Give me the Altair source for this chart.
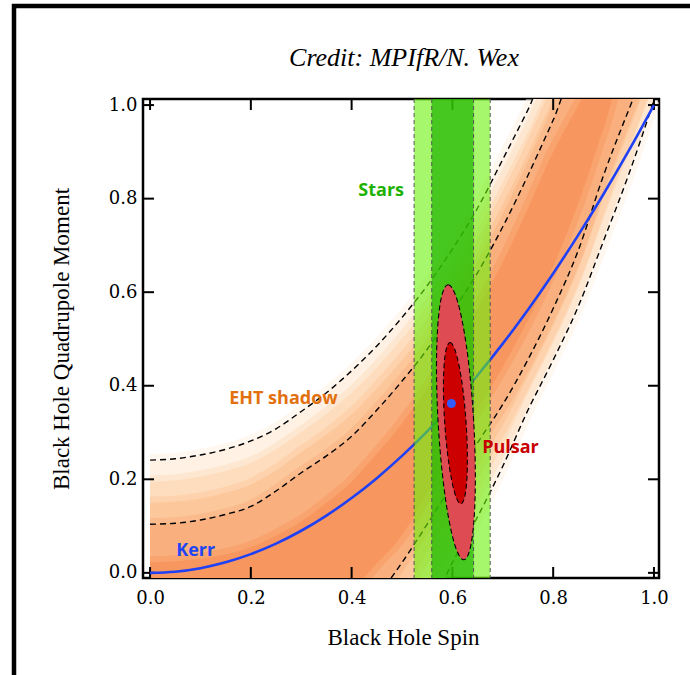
import altair as alt
import pandas as pd

# ---------------- data ----------------
spin_grid = [0.00, 0.05, 0.10, 0.15, 0.20, 0.25, 0.30, 0.35, 0.40, 0.45, 0.50,
             0.55, 0.60, 0.65, 0.70, 0.75, 0.80, 0.85, 0.90, 0.95, 1.00]

# Kerr relation (quadrupole vs spin)
kerr_q = [0.0, 0.0025, 0.01, 0.0225, 0.04, 0.0625, 0.09, 0.1225, 0.16, 0.2025, 0.25,
          0.3025, 0.36, 0.4225, 0.49, 0.5625, 0.64, 0.7225, 0.81, 0.9025, 1.0]

# EHT shadow contours (dashed); values outside [0,1] lie beyond the frame
eht_upper_outer = [0.241, 0.244, 0.252, 0.264, 0.282, 0.308, 0.345, 0.385, 0.432, 0.485, 0.546,
                   0.614, 0.692, 0.780, 0.884, 0.990, 1.100, 1.10, 1.10, 1.10, 1.10]
eht_upper_inner = [0.104, 0.106, 0.113, 0.125, 0.142, 0.175, 0.214, 0.250, 0.292, 0.348, 0.410,
                   0.478, 0.558, 0.642, 0.740, 0.850, 0.968, 1.090, 1.10, 1.10, 1.10]
eht_lower_inner = [-0.1, -0.1, -0.1, -0.1, -0.1, -0.1, -0.1, -0.1, -0.1, -0.05, 0.022,
                   0.104, 0.190, 0.278, 0.360, 0.456, 0.565, 0.690, 0.850, 0.990, 1.120]
eht_lower_outer = [-0.1, -0.1, -0.1, -0.1, -0.1, -0.1, -0.1, -0.1, -0.1, -0.1, -0.1,
                   -0.08, 0.022, 0.120, 0.228, 0.348, 0.455, 0.570, 0.710, 0.852, 1.010]

# estimated iso-shade boundaries of the EHT probability band
shade_upper_a = [0.195, 0.198, 0.206, 0.218, 0.235, 0.264, 0.301, 0.340, 0.385, 0.439, 0.501,
                 0.569, 0.647, 0.734, 0.836, 0.943, 1.056, 1.10, 1.10, 1.10, 1.10]
shade_upper_b = [0.150, 0.152, 0.159, 0.171, 0.189, 0.219, 0.258, 0.295, 0.339, 0.394, 0.455,
                 0.523, 0.603, 0.688, 0.788, 0.897, 1.012, 1.10, 1.10, 1.10, 1.10]
shade_upper_c = [0.022, 0.025, 0.030, 0.040, 0.055, 0.080, 0.110, 0.150, 0.195, 0.255, 0.320,
                 0.395, 0.480, 0.565, 0.665, 0.780, 0.900, 1.000, 1.10, 1.10, 1.10]
shade_lower_a = [-0.1, -0.1, -0.1, -0.1, -0.1, -0.1, -0.1, -0.1, -0.1, -0.1, -0.1,
                 -0.019, 0.078, 0.173, 0.272, 0.384, 0.492, 0.610, 0.757, 0.898, 1.047]
shade_lower_b = [-0.1, -0.1, -0.1, -0.1, -0.1, -0.1, -0.1, -0.1, -0.1, -0.1, -0.045,
                 0.043, 0.134, 0.225, 0.316, 0.420, 0.528, 0.650, 0.803, 0.944, 1.083]
shade_lower_c = [-0.1, -0.1, -0.1, -0.1, -0.1, -0.1, -0.1, -0.1, -0.04, 0.02, 0.08,
                 0.17, 0.26, 0.35, 0.44, 0.54, 0.655, 0.79, 0.95, 1.10, 1.10]

# stellar orbits constraint (spin bands)
stars_outer = [0.524, 0.675]
stars_inner = [0.559, 0.642]

# pulsar timing ellipses (centre spin, centre quadrupole)
pulsar_outer_center = [0.607, 0.322]
pulsar_inner_center = [0.606, 0.320]
best_fit = [0.598, 0.362]

# labels
label_text = ["Stars", "EHT shadow", "Kerr", "Pulsar"]
label_spin = [0.504, 0.157, 0.052, 0.659]
label_q = [0.806, 0.361, 0.036, 0.256]

title_text = "Credit: MPIfR/N. Wex"
tick_values = [0.0, 0.2, 0.4, 0.6, 0.8, 1.0]

# ---------------- chart ----------------
W, H = 516, 479
xs = alt.Scale(domain=[-0.014, 1.01], nice=False, zero=False)
ys = alt.Scale(domain=[-0.011, 1.013], nice=False, zero=False)

x_axis = alt.Axis(values=tick_values, format=".1f", ticks=False, tickSize=0, domain=False, grid=False,
                  labelFont="DejaVu Serif", labelFontSize=18, labelColor="black", labelPadding=11,
                  title="Black Hole Spin", titleFont="Liberation Serif", titleFontSize=23,
                  titleFontWeight="normal", titleColor="black", titleX=W / 2 + 2, titleY=66,
                  titleBaseline="alphabetic", titleAlign="center", zindex=1)
y_axis = alt.Axis(values=tick_values, format=".1f", ticks=False, tickSize=0, domain=False, grid=False,
                  labelFont="DejaVu Serif", labelFontSize=18, labelColor="black", labelPadding=6,
                  title="Black Hole Quadrupole Moment", titleFont="Liberation Serif", titleFontSize=23,
                  titleFontWeight="normal", titleColor="black", titleX=-75, titleY=H / 2,
                  titleAngle=270, titleBaseline="alphabetic", titleAlign="center", zindex=1)


def X(field):
    return alt.X(field, type="quantitative", scale=xs, axis=x_axis)


def Y(field):
    return alt.Y(field, type="quantitative", scale=ys, axis=y_axis)


layers = []

# orange EHT band (nested shades, outer to inner, with softened edges)
shades = [
    (eht_lower_outer, eht_upper_outer, "#FFF1E3"),
    (shade_lower_a, shade_upper_a, "#FEDDBE"),
    (shade_lower_b, shade_upper_b, "#FCC79B"),
    (eht_lower_inner, eht_upper_inner, "#FAB07E"),
    (shade_lower_c, shade_upper_c, "#F7975F"),
]
for lo, hi, col in shades:
    df = pd.DataFrame({"spin": spin_grid, "lo": lo, "hi": hi})
    layers.append(
        alt.Chart(df).mark_area(color=col, interpolate="monotone", clip=True)
        .encode(x=X("spin"), y=Y("lo"), y2=alt.Y2("hi"))
    )
    for fld in ["lo", "hi"]:
        layers.append(
            alt.Chart(df).mark_line(color=col, strokeWidth=12, opacity=0.5,
                                    interpolate="monotone", clip=True)
            .encode(x=X("spin"), y=Y(fld))
        )

# inward ticks on all four sides
tick_df = pd.DataFrame({"t": tick_values})
layers += [
    alt.Chart(tick_df).mark_rule(color="black", strokeWidth=2)
    .encode(x=X("t"), y=alt.value(H), y2=alt.value(H - 11)),
    alt.Chart(tick_df).mark_rule(color="black", strokeWidth=2)
    .encode(x=X("t"), y=alt.value(0), y2=alt.value(11)),
    alt.Chart(tick_df).mark_rule(color="black", strokeWidth=2)
    .encode(y=Y("t"), x=alt.value(0), x2=alt.value(11)),
    alt.Chart(tick_df).mark_rule(color="black", strokeWidth=2)
    .encode(y=Y("t"), x=alt.value(W), x2=alt.value(W - 11)),
]

# EHT dashed contours
rows = []
for name, arr in [("uo", eht_upper_outer), ("ui", eht_upper_inner),
                  ("li", eht_lower_inner), ("lo", eht_lower_outer)]:
    for s, q in zip(spin_grid, arr):
        rows.append({"spin": s, "q": q, "line": name})
eht_df = pd.DataFrame(rows)
layers.append(
    alt.Chart(eht_df).mark_line(color="black", strokeWidth=1.4, strokeDash=[6, 4],
                                interpolate="monotone", clip=True)
    .encode(x=X("spin"), y=Y("q"), detail="line:N")
)

# Kerr curve
kerr_df = pd.DataFrame({"spin": spin_grid, "q": kerr_q})
layers.append(
    alt.Chart(kerr_df).mark_line(color="#1F40F5", strokeWidth=2.6, interpolate="monotone", clip=True)
    .encode(x=X("spin"), y=Y("q"))
)

# stars bands
outer_df = pd.DataFrame({"lo": [stars_outer[0]], "hi": [stars_outer[1]]})
inner_df = pd.DataFrame({"lo": [stars_inner[0]], "hi": [stars_inner[1]]})
layers.append(alt.Chart(outer_df).mark_rect(color="#6BF20A", opacity=0.6)
              .encode(x=X("lo"), x2=alt.X2("hi")))
layers.append(alt.Chart(inner_df).mark_rect(color="#20B400", opacity=0.7)
              .encode(x=X("lo"), x2=alt.X2("hi")))
edge_df = pd.DataFrame({"e": stars_outer + stars_inner})
layers.append(alt.Chart(edge_df).mark_rule(color="#555555", strokeWidth=1, strokeDash=[4, 3])
              .encode(x=X("e")))

# pulsar ellipses
ell_outer = "M 0 -1 A 0.129 1 0 1 1 0 1 A 0.129 1 0 1 1 0 -1 Z"
ell_inner = "M 0 -1 A 0.132 1 0 1 1 0 1 A 0.132 1 0 1 1 0 -1 Z"
po_df = pd.DataFrame({"spin": [pulsar_outer_center[0]], "q": [pulsar_outer_center[1]]})
pi_df = pd.DataFrame({"spin": [pulsar_inner_center[0]], "q": [pulsar_inner_center[1]]})
layers.append(
    alt.Chart(po_df).mark_point(shape=ell_outer, filled=True, fill="#DF4B53", stroke="black",
                                strokeWidth=1.1, strokeDash=[5, 3], size=75846, angle=356.7, opacity=1)
    .encode(x=X("spin"), y=Y("q"))
)
layers.append(
    alt.Chart(pi_df).mark_point(shape=ell_inner, filled=True, fill="#CC0000", stroke="black",
                                strokeWidth=1.1, strokeDash=[5, 3], size=26115, angle=356.1, opacity=1)
    .encode(x=X("spin"), y=Y("q"))
)
bf_df = pd.DataFrame({"spin": [best_fit[0]], "q": [best_fit[1]]})
layers.append(
    alt.Chart(bf_df).mark_point(shape="circle", filled=True, color="#2F5BFF", size=80, opacity=1)
    .encode(x=X("spin"), y=Y("q"))
)

# labels
label_styles = [("#1DB100", "right"), ("#E2700F", "left"), ("#2045F5", "left"), ("#C80000", "left")]
for i, (col, al) in enumerate(label_styles):
    df = pd.DataFrame({"spin": [label_spin[i]], "q": [label_q[i]], "txt": [label_text[i]]})
    layers.append(
        alt.Chart(df).mark_text(font="Open Sans", fontWeight="bold", fontSize=18, color=col,
                                align=al, baseline="alphabetic")
        .encode(x=X("spin"), y=Y("q"), text="txt:N")
    )

# title text above the frame
one = pd.DataFrame({"txt": [title_text]})
layers.append(
    alt.Chart(one).mark_text(font="Liberation Serif", fontStyle="italic", fontSize=26, color="black",
                             align="center", baseline="alphabetic")
    .encode(x=alt.value(W / 2 + 3), y=alt.value(-33), text="txt:N")
)

# outer picture frame (decoration)
layers.append(alt.Chart(one).mark_rule(color="black", strokeWidth=4.5)
              .encode(x=alt.value(-129), y=alt.value(-95), y2=alt.value(620)))
layers.append(alt.Chart(one).mark_rule(color="black", strokeWidth=4.5)
              .encode(y=alt.value(-93), x=alt.value(-131), x2=alt.value(600)))

chart = alt.layer(*layers).properties(
    width=W, height=H,
    autosize=alt.AutoSizeParams(type="none"),
    padding={"left": 143, "top": 99, "right": 31, "bottom": 97},
    background="white",
).configure_view(stroke="black", strokeWidth=2.5)

chart.save("out.html", embed_options={"renderer": "svg", "actions": False})
